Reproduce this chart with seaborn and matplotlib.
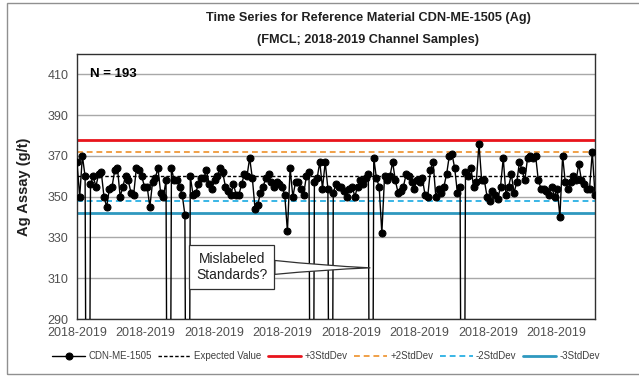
"""
Time series chart for reference material CDN-ME-1505 (Ag), FMCL 2018-2019 channel samples.
"""

import numpy as np
import pandas as pd
import matplotlib
matplotlib.use("Agg")
import matplotlib.pyplot as plt
import seaborn as sns
from matplotlib.patches import Rectangle

# =============================================================================
# 1. DATA
# =============================================================================
LOW = 2.0  # mislabeled standards, far below the axis floor

ag_values = [
    367, 350, 370, 360, LOW, 356, 360, 355, 361, 362,   # 0-9
    350, 345, 354, 355, 363, 364, 350, 355, 360, 358,   # 10-19
    352, 351, 364, 363, 360, 355, 355, 345, 357, 359,   # 20-29
    364, 352, 350, 358, LOW, 364, 358, 358, 355, 351,   # 30-39
    341, LOW, 360, 351, 352, 356, 359, 359, 363, 356,   # 40-49
    354, 358, 360, 364, 362, 355, 353, 351, 356, 351,   # 50-59
    351, 356, 361, 360, 369, 359, 344, 346, 352, 355,   # 60-69
    359, 361, 357, 355, 357, 356, 355, 351, 333, 364,   # 70-79
    350, 357, 357, 354, 351, 360, 362, LOW, 357, 359,   # 80-89
    367, 354, 367, 354, LOW, 352, 356, 355, 355, 353,   # 90-99
    350, 354, 355, 350, 355, 358, 356, 359, 361, LOW,   # 100-109
    369, 359, 355, 332, 360, 358, 360, 367, 358, 352,   # 110-119
    353, 355, 361, 360, 357, 354, 358, 357, 359, 351,   # 120-129
    350, 363, 367, 350, 354, 352, 355, 361, 370, 371,   # 130-139
    364, 352, 355, LOW, 362, 360, 364, 355, 357, 376,   # 140-149
    358, 358, 350, 348, 353, 351, 349, 355, 369, 351,   # 150-159
    355, 361, 352, 357, 367, 363, 358, 369, 370, 369,   # 160-169
    370, 358, 354, 354, 353, 351, 355, 350, 354, 340,   # 170-179
    370, 357, 354, 357, 360, 358, 366, 358, 356, 354,   # 180-189
    354, 372, 351,                                      # 190-192
]

expected_value = 360.0
plus_3sd = 378.0
plus_2sd = 372.0
minus_2sd = 348.0
minus_3sd = 342.0

y_ticks = [290, 310, 330, 350, 370, 390, 410]
x_tick_label = "2018-2019"
n_x_labels = 8

df = pd.DataFrame({"sample": np.arange(len(ag_values)), "ag": ag_values})
n_samples = len(df)

# =============================================================================
# 2. PLOT
# =============================================================================
sns.set_style("white")
plt.rcParams["font.family"] = ["Liberation Sans", "DejaVu Sans"]

fig = plt.figure(figsize=(6.39, 3.77), dpi=100)
ax = fig.add_axes([0.1205, 0.1538, 0.8106, 0.703])

# horizontal gridlines first so everything sits on top
for yv in y_ticks:
    ax.axhline(yv, color="#a8a8a8", lw=1.0, zorder=0)

ax.axhline(expected_value, color="black", lw=1.0, ls=(0, (2.5, 1.5)), label="Expected Value", zorder=2)
ax.axhline(plus_3sd, color="#e8141c", lw=2.0, label="+3StdDev", zorder=2)
ax.axhline(plus_2sd, color="#f0a048", lw=1.4, ls=(0, (3, 2)), label="+2StdDev", zorder=2)
ax.axhline(minus_2sd, color="#38b6e6", lw=1.4, ls=(0, (3, 2)), label="-2StdDev", zorder=2)
ax.axhline(minus_3sd, color="#2e98bf", lw=2.0, label="-3StdDev", zorder=2)

sns.lineplot(data=df, x="sample", y="ag", ax=ax, color="black", lw=1.0,
             marker="o", markersize=5.0, markeredgecolor="black",
             label="CDN-ME-1505", zorder=3, legend=False)

ax.set_xlim(0, n_samples - 1)
ax.set_ylim(290, 420)
ax.set_yticks(y_ticks)
ax.set_yticklabels([str(v) for v in y_ticks], color="#505050", fontsize=9)

tick_pos = np.arange(n_x_labels) * 25.4
ax.set_xticks(tick_pos)
ax.set_xticklabels([x_tick_label] * n_x_labels, color="#505050", fontsize=9)
ax.set_xticks(np.arange(n_samples), minor=True)
ax.tick_params(axis="x", which="major", length=0, pad=6)
ax.tick_params(axis="x", which="minor", length=2, color="#909090", width=0.5)
ax.tick_params(axis="y", which="major", length=3, color="#808080", pad=3)

ax.set_xlabel("")
ax.set_ylabel("Ag Assay (g/t)", fontsize=10.5, fontweight="bold", color="#202020", labelpad=12)

for side in ["left", "right", "top", "bottom"]:
    ax.spines[side].set_visible(True)
    ax.spines[side].set_color("#303030")
    ax.spines[side].set_linewidth(1.0)

# sample count
ax.text(0.025, 0.925, "N = 193", transform=ax.transAxes, fontsize=9.5,
        fontweight="bold", ha="left", va="center", color="black")

# callout for the low outliers
ax.annotate("Mislabeled\nStandards?", xy=(108.6, 315.1), xytext=(57.4, 315.4),
            ha="center", va="center", fontsize=10, color="#202020", zorder=5,
            bbox=dict(boxstyle="square,pad=0.5", fc="white", ec="#303030", lw=0.9),
            arrowprops=dict(arrowstyle="wedge,tail_width=1.0,shrink_factor=0.4",
                            fc="white", ec="#303030", lw=0.9, shrinkA=0, shrinkB=0))

# title
fig.text(368 / 639, 1 - 18 / 377, "Time Series for Reference Material CDN-ME-1505 (Ag)",
         ha="center", va="center", fontsize=9.2, fontweight="bold", color="#202020")
fig.text(368 / 639, 1 - 40 / 377, "(FMCL; 2018-2019 Channel Samples)",
         ha="center", va="center", fontsize=9.2, fontweight="bold", color="#202020")

# legend along the bottom
handles, labels = ax.get_legend_handles_labels()
order = ["CDN-ME-1505", "Expected Value", "+3StdDev", "+2StdDev", "-2StdDev", "-3StdDev"]
lookup = dict(zip(labels, handles))
fig.legend([lookup[k] for k in order], order, loc="center", ncol=6,
           bbox_to_anchor=(0.51, 1 - 356 / 377), frameon=False, fontsize=7,
           handlelength=3.4, handletextpad=0.3, columnspacing=0.7,
           labelcolor="#404040")

# outer chart-area border
fig.patches.append(Rectangle((7 / 639, 3 / 377), 1.0, 1 - 6 / 377, transform=fig.transFigure,
                             fill=False, ec="#909090", lw=1.0))

fig.savefig("out.png", dpi=100)
